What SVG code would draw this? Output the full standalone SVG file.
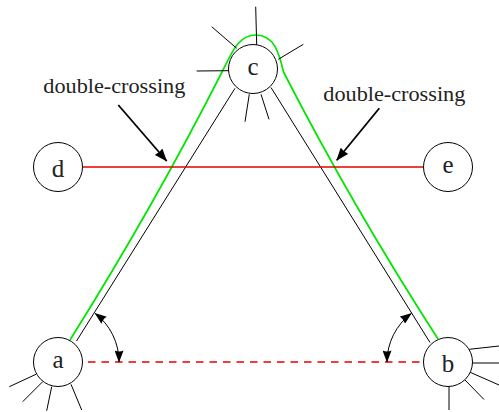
<svg xmlns="http://www.w3.org/2000/svg" width="499" height="412" viewBox="0 0 499 412">
<style>
.node circle{fill:#fff;stroke:#000;stroke-width:1}
.node text{font-family:"Liberation Serif",serif;font-size:25px;text-anchor:middle;fill:#222}
.stub{stroke:#000;stroke-width:1;fill:none}
.edge{stroke:#000;stroke-width:1;fill:none}
.lbl{font-family:"Liberation Serif",serif;font-size:22px;fill:#222}
.ptr{stroke:#000;stroke-width:1.8;fill:none}
.ang{stroke:#000;stroke-width:1;fill:none}
</style>
<defs>
<marker id="ah" markerUnits="userSpaceOnUse" markerWidth="12" markerHeight="9" viewBox="0 0 12 9" refX="11.5" refY="4.5" orient="auto-start-reverse">
<path d="M0,0 L12,4.5 L0,9 Q2,4.5 0,0z" fill="#000"/>
</marker>
<marker id="ahp" markerUnits="userSpaceOnUse" markerWidth="13" markerHeight="10" viewBox="0 0 13 10" refX="12.5" refY="5" orient="auto">
<path d="M0,0 L13,5 L0,10 Q2,5 0,0z" fill="#000"/>
</marker>
</defs>
<g id="connectors">
<path d="M70,340 Q154,206 222,72 C232,52.5 238,35 256,35 C274,35 279,52.5 283.5,72 Q352,205.5 438,339" stroke="#00e600" stroke-width="1.7" fill="none"/>
<line class="edge" x1="76.5" y1="341" x2="235" y2="88.3"/>
<line class="edge" x1="271" y1="87.5" x2="430" y2="342.5"/>
<line x1="83" y1="167" x2="424" y2="167" stroke="#e60000" stroke-width="1.7"/>
<line x1="88" y1="362" x2="424" y2="362" stroke="#e60000" stroke-width="1.7" stroke-dasharray="7.5 6"/>
<path class="ang" d="M95,313.3 A61,61 0 0 1 119,362" marker-start="url(#ah)" marker-end="url(#ah)"/>
<path class="ang" d="M411.5,313.3 A61,61 0 0 0 387,362" marker-start="url(#ah)" marker-end="url(#ah)"/>
<line class="ptr" x1="118.3" y1="105" x2="166.7" y2="161" marker-end="url(#ahp)"/>
<line class="ptr" x1="379.3" y1="108.3" x2="336.7" y2="160.3" marker-end="url(#ahp)"/>
</g>
<g id="labels">
<text class="lbl" x="43.3" y="93" textLength="142" lengthAdjust="spacingAndGlyphs">double-crossing</text>
<text class="lbl" x="323.3" y="100.5" textLength="142" lengthAdjust="spacingAndGlyphs">double-crossing</text>
</g>
<g id="node-c" class="node">
<line class="stub" x1="256.7" y1="45" x2="255.7" y2="6.7"/>
<line class="stub" x1="236.7" y1="48.3" x2="211.7" y2="26.7"/>
<line class="stub" x1="229" y1="70.7" x2="196.7" y2="71"/>
<line class="stub" x1="278.3" y1="59.3" x2="303.3" y2="44.3"/>
<line class="stub" x1="249.3" y1="94.3" x2="245" y2="121.7"/>
<line class="stub" x1="261" y1="94.3" x2="269" y2="119.3"/>
<circle cx="253" cy="69" r="24.5"/>
<text x="253" y="75">c</text>
</g>
<g id="node-a" class="node">
<line class="stub" x1="36" y1="374.3" x2="9.3" y2="386.7"/>
<line class="stub" x1="42.7" y1="381.7" x2="22.7" y2="401.7"/>
<line class="stub" x1="51.7" y1="386.7" x2="46.7" y2="410.7"/>
<line class="stub" x1="71" y1="384.3" x2="81.7" y2="410"/>
<circle cx="58" cy="362" r="24.5"/>
<text x="58" y="368">a</text>
</g>
<g id="node-b" class="node">
<line class="stub" x1="469.3" y1="349.3" x2="499" y2="346"/>
<line class="stub" x1="472.5" y1="363" x2="499" y2="363"/>
<line class="stub" x1="469.5" y1="372" x2="499" y2="385"/>
<line class="stub" x1="465" y1="380" x2="484" y2="399.5"/>
<line class="stub" x1="449" y1="386.5" x2="449" y2="410"/>
<circle cx="448" cy="362" r="24.5"/>
<text x="448" y="372">b</text>
</g>
<g id="node-d" class="node">
<circle cx="58" cy="167" r="24.5"/>
<text x="58" y="177">d</text>
</g>
<g id="node-e" class="node">
<circle cx="448" cy="167" r="24.5"/>
<text x="448" y="172.5">e</text>
</g>
</svg>
